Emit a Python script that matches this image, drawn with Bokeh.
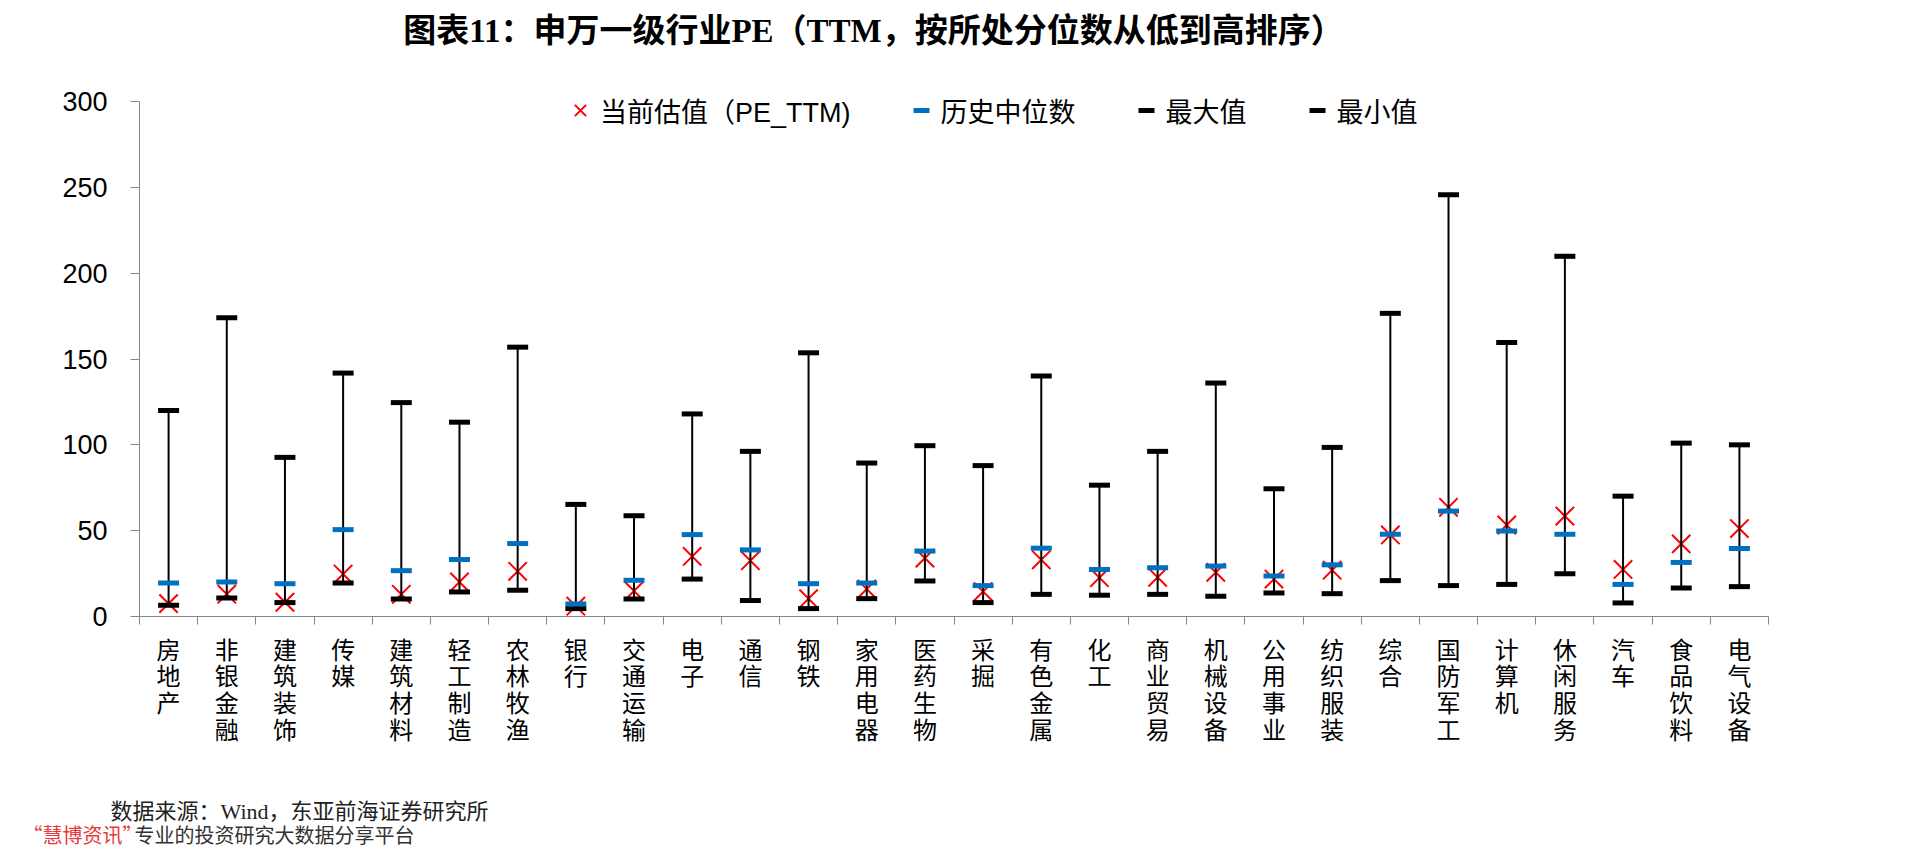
from bokeh.plotting import figure
from bokeh.models import Range1d, FixedTicker, Label, Legend, LegendItem, ColumnDataSource
from bokeh.embed import file_html
from bokeh.resources import INLINE

# ---------------- data ----------------
industries = ["房地产", "非银金融", "建筑装饰", "传媒", "建筑材料", "轻工制造", "农林牧渔",
              "银行", "交通运输", "电子", "通信", "钢铁", "家用电器", "医药生物", "采掘",
              "有色金属", "化工", "商业贸易", "机械设备", "公用事业", "纺织服装", "综合",
              "国防军工", "计算机", "休闲服务", "汽车", "食品饮料", "电气设备"]
current_pe = [7.5, 13.0, 8.3, 24.7, 12.9, 20.1, 26.3, 6.0, 14.9, 35.0, 32.5, 10.4, 16.0, 34.0,
              14.5, 33.0, 22.6, 22.8, 25.7, 21.8, 27.0, 47.5, 63.6, 53.3, 58.5, 27.4, 42.3, 51.2]
median_pe = [19.5, 20.1, 19.1, 50.6, 26.7, 33.2, 42.5, 7.3, 21.1, 47.7, 38.8, 19.1, 19.5, 38.1,
             18.0, 39.8, 27.4, 28.4, 29.4, 23.6, 30.1, 47.9, 61.4, 49.8, 47.9, 18.7, 31.5, 39.6]
max_pe = [120.0, 174.0, 92.7, 141.8, 124.6, 113.2, 156.9, 65.3, 58.7, 118.0, 96.2, 153.6, 89.4,
          99.5, 87.9, 140.1, 76.5, 96.2, 136.0, 74.4, 98.5, 176.6, 245.7, 159.6, 209.8, 70.1,
          101.0, 100.0]
min_pe = [6.6, 10.8, 8.1, 19.5, 10.2, 14.3, 15.3, 4.6, 10.2, 21.8, 9.3, 4.6, 10.4, 20.7, 8.1,
          12.9, 12.4, 12.9, 11.8, 13.7, 13.3, 20.9, 18.0, 18.7, 24.9, 7.9, 16.6, 17.4]
y_ticks = [0, 50, 100, 150, 200, 250, 300]

title_text = "图表11：申万一级行业PE（TTM，按所处分位数从低到高排序）"
source_text = "数据来源：Wind，东亚前海证券研究所"
watermark_brand = "“慧博资讯”"
watermark_rest = "专业的投资研究大数据分享平台"
legend_labels = ["当前估值（PE_TTM)", "历史中位数", "最大值", "最小值"]

# ---------------- layout ----------------
# The plot frame covers the whole canvas; both axes are pinned at the data origin
# so that the title, legend and footnotes can sit anywhere without being clipped.
N = len(industries)
Y_MAX = 300
W, H = 1904, 848
FL, FR, FT, FB = 139, 1768, 101, 616  # pixel positions of x=0, x=N, y=300, y=0


def dx(px):
    return (px - FL) / (FR - FL) * N


def dy(py):
    return (FB - py) / (FB - FT) * Y_MAX


xs = [i + 0.5 for i in range(N)]
src = ColumnDataSource(dict(x=xs, cur=current_pe, med=median_pe, mx=max_pe, mn=min_pe))

p = figure(width=W, height=H, output_backend="svg", toolbar_location=None,
           x_range=Range1d(dx(0), dx(W)), y_range=Range1d(dy(H), dy(0)),
           min_border=0)
p.outline_line_color = None
p.xgrid.visible = False
p.ygrid.visible = False
p.background_fill_color = "white"
p.border_fill_color = "white"

AX = "#868686"
# y axis
p.yaxis.fixed_location = 0
p.yaxis.bounds = (0, Y_MAX)
p.yaxis.ticker = FixedTicker(ticks=y_ticks)
p.yaxis.axis_line_color = AX
p.yaxis.major_tick_line_color = AX
p.yaxis.major_tick_out = 9
p.yaxis.major_tick_in = 0
p.yaxis.minor_tick_line_color = None
p.yaxis.major_label_text_font = "Liberation Sans"
p.yaxis.major_label_text_font_size = "27px"
p.yaxis.major_label_text_color = "black"
p.yaxis.major_label_standoff = 23

# x axis: labels at category centres, tick marks at category boundaries
p.xaxis.fixed_location = 0
p.xaxis.bounds = (0, N)
p.xaxis.ticker = FixedTicker(ticks=xs, minor_ticks=list(range(N + 1)))
p.xaxis.major_label_overrides = {x: "\n".join(name) for x, name in zip(xs, industries)}
p.xaxis.axis_line_color = AX
p.xaxis.major_tick_line_color = None
p.xaxis.major_tick_out = 0
p.xaxis.major_tick_in = 0
p.xaxis.minor_tick_line_color = AX
p.xaxis.minor_tick_out = 8
p.xaxis.minor_tick_in = 0
p.xaxis.major_label_text_font = "Noto Sans CJK SC"
p.xaxis.major_label_text_font_size = "24px"
p.xaxis.major_label_text_line_height = 0.77
p.xaxis.major_label_text_color = "black"
p.xaxis.major_label_standoff = 6

# marks
r_cur = p.scatter("x", "cur", source=src, marker="x", size=26, line_color="#FF0000", line_width=2)
p.segment("x", "mn", "x", "mx", source=src, line_color="black", line_width=2)
r_max = p.scatter("x", "mx", source=src, marker="dash", size=21, line_color="black", line_width=5)
r_min = p.scatter("x", "mn", source=src, marker="dash", size=21, line_color="black", line_width=5)
r_med = p.scatter("x", "med", source=src, marker="dash", size=21, line_color="#0070C0", line_width=5)

legend = Legend(items=[LegendItem(label=legend_labels[0], renderers=[r_cur]),
                       LegendItem(label=legend_labels[1], renderers=[r_med]),
                       LegendItem(label=legend_labels[2], renderers=[r_max]),
                       LegendItem(label=legend_labels[3], renderers=[r_min])],
                orientation="horizontal", location=(560, H - 132),
                glyph_width=40, glyph_height=44, label_standoff=0, spacing=50,
                padding=0, margin=0, border_line_color=None, background_fill_alpha=0,
                label_text_font="Liberation Sans, Noto Sans CJK SC",
                label_text_font_size="27px", label_text_color="black")
p.add_layout(legend, "center")

# title
p.add_layout(Label(x=dx(873), y=dy(30), text=title_text, text_align="center",
                   text_baseline="middle", text_font="Liberation Serif, Noto Sans CJK SC",
                   text_font_style="bold", text_font_size="33px", text_color="black"))

# footnotes
p.add_layout(Label(x=dx(110), y=dy(811), text=source_text, text_align="left",
                   text_baseline="middle", text_font="Liberation Serif, Noto Sans CJK SC",
                   text_font_size="22px", text_color="#222222"))
p.add_layout(Label(x=dx(22), y=dy(834), text=watermark_brand, text_align="left",
                   text_baseline="middle", text_font="Noto Sans CJK SC",
                   text_font_size="20px", text_color="#E8383D"))
p.add_layout(Label(x=dx(134), y=dy(834), text=watermark_rest, text_align="left",
                   text_baseline="middle", text_font="Noto Sans CJK SC",
                   text_font_size="20px", text_color="#333333"))

open("out.html", "w").write(file_html(p, INLINE))
